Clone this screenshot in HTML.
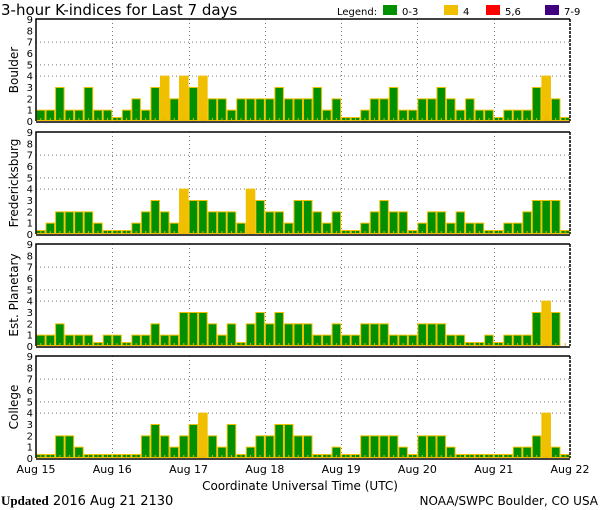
<!DOCTYPE html>
<html><head><meta charset="utf-8"><style>
html,body{margin:0;padding:0;background:#fff;}
svg{display:block;font-family:"DejaVu Sans","Liberation Sans",sans-serif;}
</style></head><body>
<svg id="chart" width="600" height="510" viewBox="0 0 600 510">
<text x="1" y="15" font-size="15" fill="#000">3-hour K-indices for Last 7 days</text>
<g>
<text x="337" y="15" font-size="10">Legend:</text>
<rect x="383" y="5" width="14" height="10" fill="#009000"/>
<text x="402" y="15" font-size="10">0-3</text>
<rect x="444" y="5" width="14" height="10" fill="#f0c000"/>
<text x="463" y="15" font-size="10">4</text>
<rect x="486" y="5" width="14" height="10" fill="#ff0000"/>
<text x="505" y="15" font-size="10">5,6</text>
<rect x="545" y="5" width="14" height="10" fill="#400080"/>
<text x="564" y="15" font-size="10">7-9</text>
</g>
<text x="300" y="490" font-size="12" text-anchor="middle">Coordinate Universal Time (UTC)</text>
<text x="1" y="505" font-size="13"><tspan font-family="Liberation Serif,serif" font-weight="bold">Updated</tspan> 2016 Aug 21 2130</text>
<text x="598" y="505" font-size="12" text-anchor="end">NOAA/SWPC Boulder, CO USA</text>
</svg>
<script>
const panelNames = ["Boulder","Fredericksburg","Est. Planetary","College"];
const dayLabels = ["Aug 15","Aug 16","Aug 17","Aug 18","Aug 19","Aug 20","Aug 21","Aug 22"];
const yTicks = [0,1,2,3,4,5,6,7,8,9];
const gridLevels = [4,5,7];
const boulder = [1,1,3,1,1,3,1,1, 0,1,2,1,3,4,2,4, 3,4,2,2,1,2,2,2, 2,3,2,2,2,3,1,2, 0,0,1,2,2,3,1,1, 2,2,3,2,1,2,1,1, 0,1,1,1,3,4,2,0];
const fredericksburg = [0,1,2,2,2,2,1,0, 0,0,1,2,3,2,1,4, 3,3,2,2,2,1,4,3, 2,2,1,3,3,2,1,2, 0,0,1,2,3,2,2,0, 1,2,2,1,2,1,1,0, 0,1,1,2,3,3,3,0];
const planetary = [1,1,2,1,1,1,0,1, 1,0,1,1,2,1,1,3, 3,3,2,1,2,0,2,3, 2,3,2,2,2,1,1,2, 1,1,2,2,2,1,1,1, 2,2,2,1,1,0,0,1, 0,1,1,1,3,4,3,-1];
const college = [0,0,2,2,1,0,0,0, 0,0,0,2,3,2,1,2, 3,4,2,1,3,0,1,2, 2,3,3,2,2,0,0,1, 0,0,2,2,2,2,1,0, 2,2,2,1,0,0,0,0, 0,0,1,1,2,4,1,0];
const series = [boulder, fredericksburg, planetary, college];

const svg = document.getElementById('chart');
const NS = 'http://www.w3.org/2000/svg';
const X0 = 36, X1 = 570, PH = 102;
const tops = [19, 132, 244, 356];
const nBars = 56;
const bw = (X1 - X0) / nBars;
function xScale(i){ return X0 + i * bw; }
function mk(tag, attrs){ const e = document.createElementNS(NS, tag); for (const k in attrs) e.setAttribute(k, attrs[k]); svg.appendChild(e); return e; }
function colorFor(v){ return v <= 3 ? '#009000' : v === 4 ? '#f0c000' : v <= 6 ? '#ff0000' : '#400080'; }

series.forEach((vals, p) => {
  const top = tops[p], base = top + PH;
  const yScale = v => base - v * PH / 9;
  gridLevels.forEach(g => {
    const l = mk('line', {x1: X0, x2: X1, y1: yScale(g)+0.5, y2: yScale(g)+0.5, stroke: '#777', 'stroke-dasharray': '1,3'});
    
    
  });
  for (let d = 1; d < 7; d++) {
    const x = Math.round(xScale(d * 8)) + 0.5;
    const l = mk('line', {x1: x, x2: x, y1: top, y2: base, stroke: '#777', 'stroke-dasharray': '1,3'});
    
    
  }
  vals.forEach((v, i) => {
    const x = xScale(i);
    if (v >= 0) {
      const h = v === 0 ? 4 : v * PH / 9;
      const r = mk('rect', {x: x + 0.5, y: base - h + 0.5, width: bw - 1, height: h - 1, fill: colorFor(v), stroke: '#f0c000', 'stroke-width': 1});
      
      
    }
    const t = mk('line', {x1: x + bw/2, x2: x + bw/2, y1: base - 3, y2: base, stroke: '#e8b000', 'stroke-width': 1});
    
    
  });
  const f1 = mk('path', {d: `M${X0},${base} V${top} H${X1}`, stroke: '#000', 'stroke-width': 1.5, fill: 'none'});
  
  
  const f2 = mk('line', {x1: X1, x2: X1, y1: top, y2: base, stroke: '#000', 'stroke-width': 1.5, 'stroke-dasharray': '3,1'});
  
  
  const f3 = mk('line', {x1: X0, x2: X1, y1: base + 1, y2: base + 1, stroke: '#000', 'stroke-width': 1.5});
  
  
  yTicks.forEach(t => {
    const tx = mk('text', {x: 33, y: yScale(t) + 4, 'font-size': 10, 'text-anchor': 'end'});
    tx.textContent = t;
    
    
  });
  const cy = top + PH / 2;
  const nm = mk('text', {x: 14, y: cy, 'font-size': 12, 'text-anchor': 'middle', transform: `rotate(-90 14 ${cy})`, dy: 4});
  nm.textContent = panelNames[p];
  
  
});
dayLabels.forEach((lab, d) => {
  const t = mk('text', {x: xScale(d * 8), y: 473, 'font-size': 11, 'text-anchor': 'middle'});
  t.textContent = lab;
  
  
});
</script>
</body></html>
